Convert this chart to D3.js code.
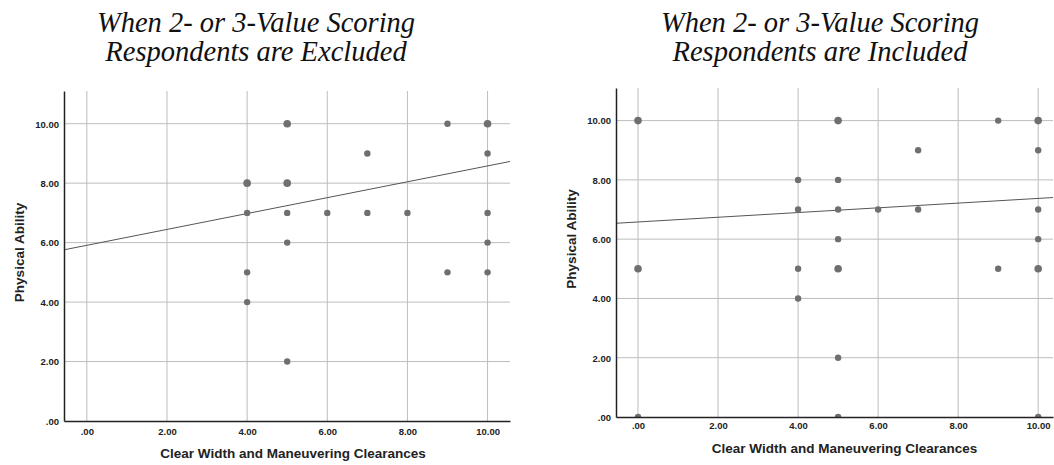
<!DOCTYPE html>
<html><head><meta charset="utf-8">
<script src="https://cdn.jsdelivr.net/npm/d3@7"></script>
<style>
body{margin:0;background:#fff;}
svg{display:block;}
.tick text{font-family:Arial,"Liberation Sans",sans-serif;font-weight:bold;font-size:9.5px;fill:#222;}
</style></head><body>
<svg id="c" width="1054" height="465"></svg>
<script>
// ---- data ----
const titlesLeft = ["When 2- or 3-Value Scoring", "Respondents are Excluded"];
const titlesRight = ["When 2- or 3-Value Scoring", "Respondents are Included"];
const xLabel = "Clear Width and Maneuvering Clearances";
const yLabel = "Physical Ability";
const tickValues = [0, 2, 4, 6, 8, 10];
const tickLabels = [".00", "2.00", "4.00", "6.00", "8.00", "10.00"];
// excluded: x, y, overlapping (1 = several respondents)
const leftX = [4,4,4,4,5,5,5,5,5,6,7,7,8,9,9,10,10,10,10,10];
const leftY = [8,7,5,4,10,8,7,6,2,7,9,7,7,10,5,10,9,7,6,5];
const leftM = [1,0,0,0,1,1,0,0,0,0,0,0,0,0,0,1,0,0,0,0];
// included
const rightX = [0,0,0,4,4,4,4,5,5,5,5,5,5,5,6,7,7,9,9,10,10,10,10,10,10];
const rightY = [10,5,0,8,7,5,4,10,8,7,6,5,2,0,7,9,7,10,5,10,9,7,6,5,0];
const rightM = [1,1,0,0,0,0,0,1,0,0,0,1,0,0,0,0,0,0,0,1,0,0,0,1,0];
// fit lines: intercept, slope
const leftFit = [5.91, 0.267];
const rightFit = [6.58, 0.0795];

const svg = d3.select("#c");

function panel(cfg){
  const {x0,x1,y0,y1,xDom,yDom,xs,ys,ms,fit,titles,titleX,titleY,yLabX,yLabY,xLabY,xLabX,xPad,id} = cfg;
  const x = d3.scaleLinear().domain(xDom).range([x0,x1]);
  const y = d3.scaleLinear().domain(yDom).range([y1,y0]);
  const g = svg.append("g");
  svg.append("clipPath").attr("id","clip"+id).append("rect")
     .attr("x",x0).attr("y",y0).attr("width",x1-x0).attr("height",y1-y0);
  // grid
  g.append("g").selectAll("line").data(tickValues).join("line")
    .attr("x1",d=>x(d)).attr("x2",d=>x(d)).attr("y1",y0).attr("y2",y1)
    .attr("stroke","#bdbdbd").attr("stroke-width",1);
  g.append("g").selectAll("line").data(tickValues.filter(d=>d>0)).join("line")
    .attr("x1",x0).attr("x2",x1).attr("y1",d=>y(d)).attr("y2",d=>y(d))
    .attr("stroke","#bdbdbd").attr("stroke-width",1);
  // fit line
  g.append("line").attr("clip-path","url(#clip"+id+")")
    .attr("x1",x(xDom[0])).attr("y1",y(fit[0]+fit[1]*xDom[0]))
    .attr("x2",x(xDom[1])).attr("y2",y(fit[0]+fit[1]*xDom[1]))
    .attr("stroke","#555").attr("stroke-width",1);
  // points
  const pts = xs.map((v,i)=>({x:v,y:ys[i],m:ms[i]}));
  g.append("g").attr("clip-path","url(#clip"+id+")").selectAll("circle").data(pts).join("circle")
    .attr("cx",d=>x(d.x)).attr("cy",d=>y(d.y)).attr("r",d=>d.m?3.8:3.2)
    .attr("fill","#6f6f6f");
  // axes
  const xa = g.append("g").attr("transform",`translate(0,${y1})`)
    .call(d3.axisBottom(x).tickValues(tickValues).tickFormat((d,i)=>tickLabels[i]).tickSize(0).tickPadding(xPad));
  xa.select(".domain").attr("stroke","#222").attr("stroke-width",1.5);
  const ya = g.append("g").attr("transform",`translate(${x0},0)`)
    .call(d3.axisLeft(y).tickValues(tickValues).tickFormat((d,i)=>tickLabels[i]).tickSize(0).tickPadding(5));
  ya.select(".domain").attr("stroke","#222").attr("stroke-width",1.5);
  ya.selectAll(".tick text").attr("dy","0.35em");
  // labels
  g.append("text").attr("x",xLabX).attr("y",xLabY).attr("text-anchor","middle")
    .style("font-family","Arial, 'Liberation Sans', sans-serif").style("font-weight","bold").style("font-size","13.5px")
    .attr("fill","#222").text(xLabel);
  g.append("text").attr("transform",`translate(${yLabX},${yLabY}) rotate(-90)`).attr("text-anchor","middle")
    .style("font-family","Arial, 'Liberation Sans', sans-serif").style("font-weight","bold").style("font-size","13.5px")
    .attr("fill","#222").text(yLabel);
  // title
  const t = svg.append("text").attr("text-anchor","middle")
    .style("font-family","'Liberation Serif','Times New Roman',serif").style("font-style","italic").style("font-size","28.5px")
    .attr("fill","#111");
  titles.forEach((s,i)=>t.append("tspan").attr("x",titleX).attr("y",titleY+i*29).text(s));
}

panel({id:"L",x0:64,x1:510,y0:91,y1:421,xDom:[-0.57,10.56],yDom:[0,11.1],
  xs:leftX,ys:leftY,ms:leftM,fit:leftFit,titles:titlesLeft,titleX:256,titleY:32,
  yLabX:23.5,yLabY:252.5,xLabY:458,xLabX:293,xPad:7});
panel({id:"R",x0:616,x1:1053,y0:88,y1:417,xDom:[-0.55,10.37],yDom:[0,11.1],
  xs:rightX,ys:rightY,ms:rightM,fit:rightFit,titles:titlesRight,titleX:820,titleY:32,
  yLabX:576,yLabY:239,xLabY:453,xLabX:844.5,xPad:5});
</script></body></html>
